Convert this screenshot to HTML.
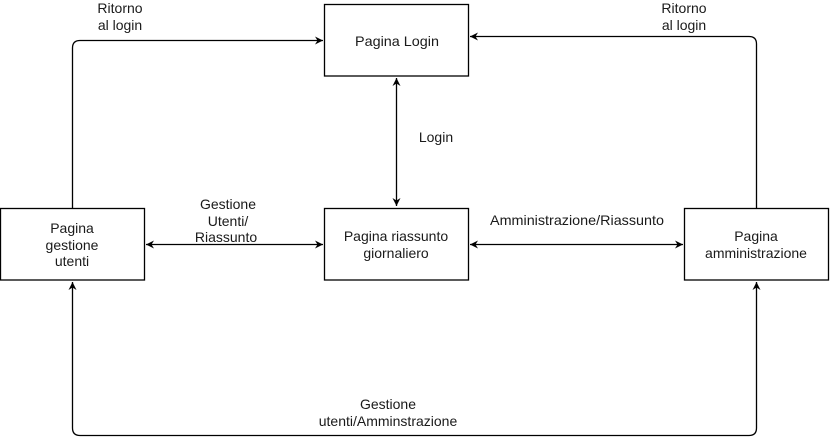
<!DOCTYPE html>
<html><head><meta charset="utf-8"><style>
html,body{margin:0;padding:0;background:#fff;}
svg{display:block;}
text{font-family:"Liberation Sans",Arial,sans-serif;font-size:14px;fill:#1a1a1a;}
</style></head><body>
<svg width="831" height="448" viewBox="0 0 831 448" xmlns="http://www.w3.org/2000/svg">
<defs>
<marker id="a" markerWidth="10" markerHeight="10" refX="9" refY="5" orient="auto-start-reverse" markerUnits="userSpaceOnUse">
<path d="M1,1 L9,5 L1,9 L3.5,5 Z" fill="#000"/>
</marker>
</defs>
<g fill="#fff" stroke="#000" stroke-width="1.3">
<rect x="324.5" y="4.5" width="144" height="71.5"/>
<rect x="0.5" y="208.5" width="144" height="71.5"/>
<rect x="324.5" y="208.5" width="144" height="71.5"/>
<rect x="684.5" y="208.5" width="144" height="71.5"/>
</g>
<g fill="none" stroke="#000" stroke-width="1.3">
<path d="M72.5,208 L72.5,48 Q72.5,40.5 80,40.5 L323,40.5" marker-end="url(#a)"/>
<path d="M756.5,208 L756.5,44 Q756.5,36.5 749,36.5 L470,36.5" marker-end="url(#a)"/>
<path d="M396.5,78 L396.5,206" marker-start="url(#a)" marker-end="url(#a)"/>
<path d="M146,244.5 L323,244.5" marker-start="url(#a)" marker-end="url(#a)"/>
<path d="M470,244.5 L683,244.5" marker-start="url(#a)" marker-end="url(#a)"/>
<path d="M72.5,282 L72.5,428 Q72.5,435.5 80,435.5 L749,435.5 Q756.5,435.5 756.5,428 L756.5,282" marker-start="url(#a)" marker-end="url(#a)"/>
</g>
<g text-anchor="middle">
<text x="397" y="46" textLength="84" lengthAdjust="spacingAndGlyphs">Pagina Login</text>
<text x="72" y="233">Pagina</text>
<text x="72" y="250">gestione</text>
<text x="72" y="266">utenti</text>
<text x="396" y="241">Pagina riassunto</text>
<text x="396" y="258">giornaliero</text>
<text x="756" y="241">Pagina</text>
<text x="756" y="258">amministrazione</text>
<text x="120" y="13">Ritorno</text>
<text x="120" y="30">al login</text>
<text x="684" y="13">Ritorno</text>
<text x="684" y="30">al login</text>
<text x="436" y="142">Login</text>
<text x="228" y="209">Gestione</text>
<text x="228" y="226">Utenti/</text>
<text x="226" y="242">Riassunto</text>
<text x="577" y="225" textLength="174" lengthAdjust="spacingAndGlyphs">Amministrazione/Riassunto</text>
<text x="388" y="409">Gestione</text>
<text x="388" y="426">utenti/Amminstrazione</text>
</g>
</svg>
</body></html>
